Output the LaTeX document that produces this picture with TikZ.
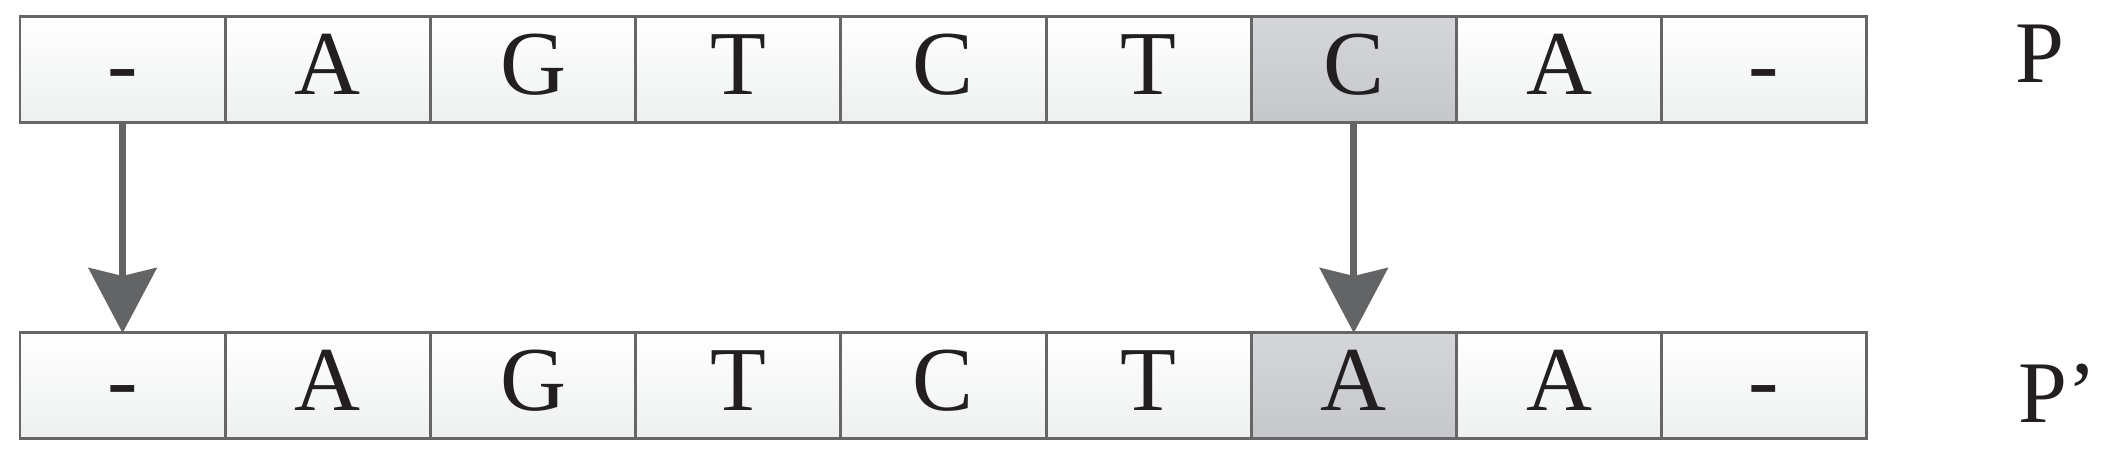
\documentclass[tikz,border=0pt]{standalone}
\usepackage{fontspec}
\setmainfont{Liberation Serif}
\usetikzlibrary{positioning,arrows.meta}
\definecolor{framegray}{RGB}{102,102,102}
\definecolor{arrowgray}{RGB}{99,100,102}
\definecolor{inkblack}{RGB}{35,31,32}
\definecolor{cellbottom}{RGB}{238,240,240}
\definecolor{marktop}{RGB}{212,214,219}
\definecolor{markbottom}{RGB}{197,199,203}
\tikzset
{
    cell/.style     = {rectangle, draw=framegray, line width=0.85pt, top color=white, bottom color=cellbottom, minimum width=2.052cm, minimum height=1.06cm, inner sep=0pt, outer sep=0pt, text height=0.58cm, text depth=0.08cm, text=inkblack, font=\fontsize{26}{31}\selectfont},
    marked/.style   = {cell, top color=marktop, bottom color=markbottom},
    seqlabel/.style = {anchor=base west, inner sep=0pt, text=inkblack, font=\fontsize{25}{30}\selectfont},
    mutation/.style = {-{Stealth[length=0.65cm, width=0.68cm, inset=0.08cm]}, draw=arrowgray, fill=arrowgray, line width=1.9pt}
}

\begin{document}
\begin{tikzpicture}
\useasboundingbox (0,0) rectangle (21.03,-4.63);

% original sequence
\node (p1)	[cell] 						at (1.226,-0.70) 	{-};
\node (p2)	[cell, right=0pt of p1] 				{A};
\node (p3)	[cell, right=0pt of p2] 				{G};
\node (p4)	[cell, right=0pt of p3] 				{T};
\node (p5)	[cell, right=0pt of p4] 				{C};
\node (p6)	[cell, right=0pt of p5] 				{T};
\node (p7)	[marked, right=0pt of p6] 				{C};
\node (p8)	[cell, right=0pt of p7] 				{A};
\node (p9)	[cell, right=0pt of p8] 				{-};
\node (pl)	[seqlabel] 					at (20.15,-0.83) 	{P};

% mutated sequence
\node (q1)	[cell] 						at (1.226,-3.86) 	{-};
\node (q2)	[cell, right=0pt of q1] 				{A};
\node (q3)	[cell, right=0pt of q2] 				{G};
\node (q4)	[cell, right=0pt of q3] 				{T};
\node (q5)	[cell, right=0pt of q4] 				{C};
\node (q6)	[cell, right=0pt of q5] 				{T};
\node (q7)	[marked, right=0pt of q6] 				{A};
\node (q8)	[cell, right=0pt of q7] 				{A};
\node (q9)	[cell, right=0pt of q8] 				{-};
\node (ql)	[seqlabel] 					at (20.18,-4.23) 	{P’};

\draw[mutation] (p1.south) -- (q1.north);
\draw[mutation] (p7.south) -- (q7.north);
\end{tikzpicture}
\end{document}
